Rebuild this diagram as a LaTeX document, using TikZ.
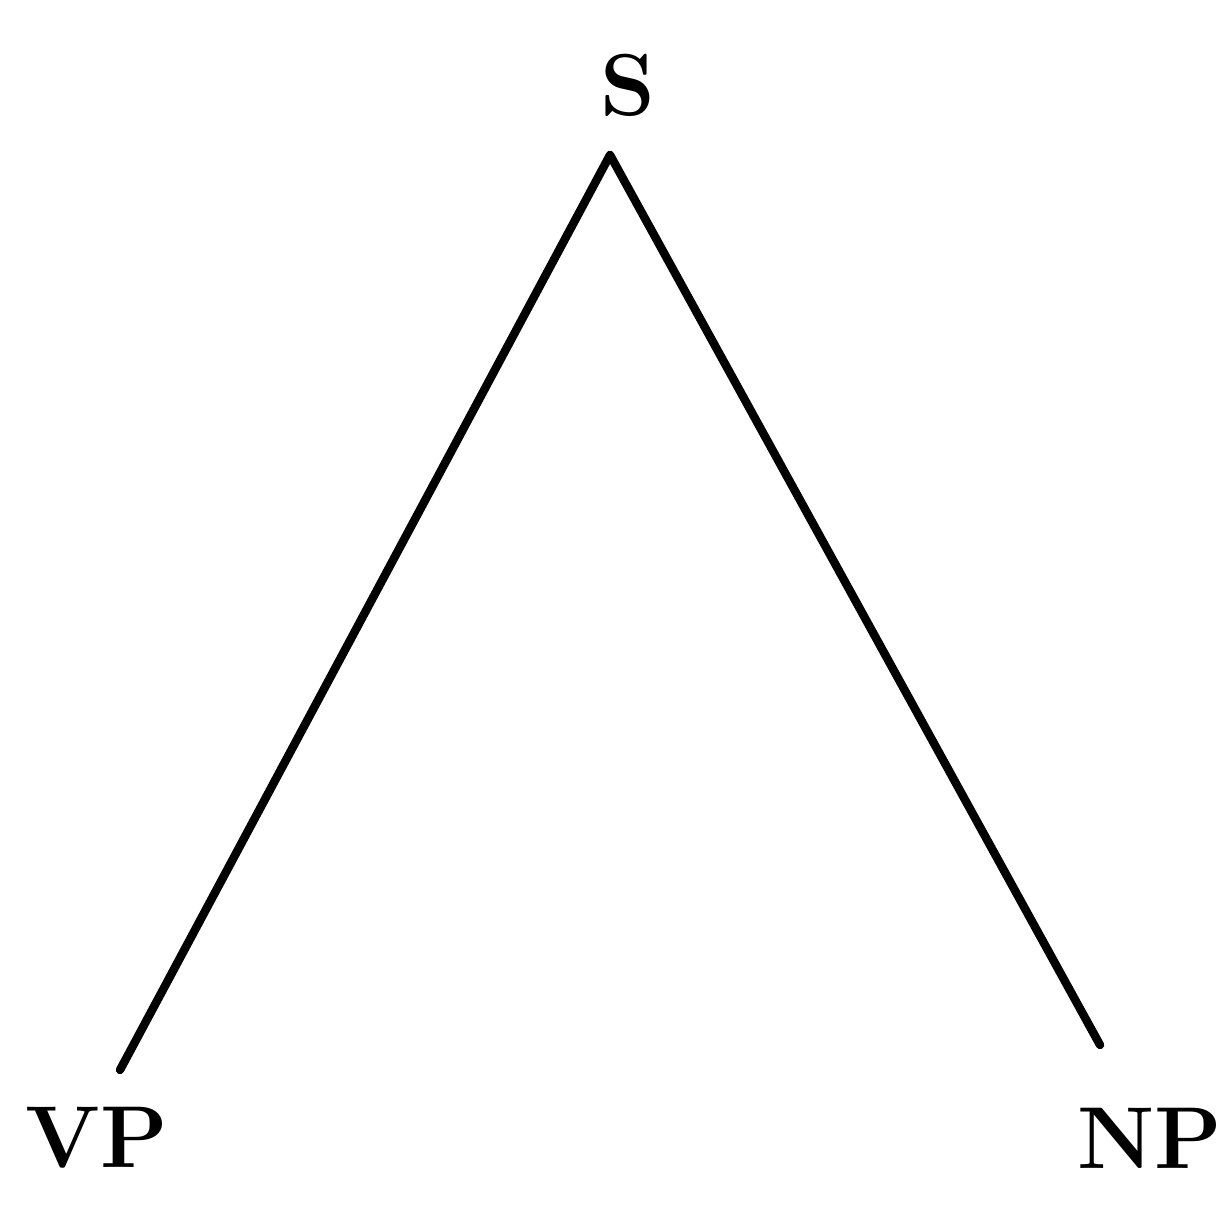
\documentclass[tikz,border=0pt]{standalone}
\usepackage{tikz}
\usetikzlibrary{positioning}

\begin{document}
\begin{tikzpicture}[
    label/.style={font=\fontsize{25}{28}\selectfont\bfseries, inner sep=0pt},
    branch/.style={line width=2.4pt, line cap=round, line join=round}
]
\useasboundingbox (0,0) rectangle (12.28,12.05);

% Category labels
\node[label] (s)  at (6.28, 11.20) {S};
\node[label] (vp) at (0.97, 0.67)  {VP};
\node[label] (np) at (11.50, 0.67) {NP};

% Branch end points
\coordinate (apex)  at (6.10, 10.50);
\coordinate (vpend) at (1.20, 1.35);
\coordinate (npend) at (11.00, 1.60);

% Branches
\draw[branch] (apex) -- (vpend);
\draw[branch] (apex) -- (npend);

\end{tikzpicture}
\end{document}
